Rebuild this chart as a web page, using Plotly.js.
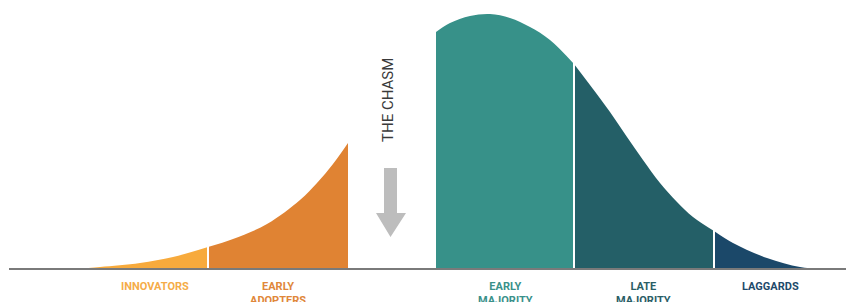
<!DOCTYPE html>
<html>
<head>
<meta charset="utf-8">
<script src="https://cdn.plot.ly/plotly-3.0.1.min.js"></script>
<style>html,body{margin:0;padding:0;background:#fff;}#chart{width:846px;height:302px;}</style>
</head>
<body>
<div id="chart"></div>
<script>
// Segment names
const segmentNames = ["INNOVATORS", "EARLY<br>ADOPTERS", "EARLY<br>MAJORITY", "LATE<br>MAJORITY", "LAGGARDS"];
const labelX = [155, 278, 505, 643, 770];

// Curve samples per segment (x position, curve height)
const innovatorsX = [73, 100, 140, 173, 208];
const innovatorsY = [0, 2, 6, 12, 22];
const earlyAdoptersX = [208, 233, 267, 300, 317, 333, 348];
const earlyAdoptersY = [22, 30, 45, 69, 86, 105, 126];
const earlyMajorityX = [436, 450, 470, 490, 510, 530, 550, 574];
const earlyMajorityY = [237, 246, 253, 255, 251, 242, 229, 205];
const lateMajorityX = [574, 593, 610, 627, 643, 660, 677, 693, 714];
const lateMajorityY = [205, 180, 157, 132, 109, 86, 67, 52, 38];
const laggardsX = [714, 733, 767, 800, 823];
const laggardsY = [38, 26, 11, 2, 0];

const fillColors = ["#F7AA3C", "#E08333", "#379189", "#245F67", "#1B4869"];
const labelColors = ["#F5AC48", "#E0873A", "#3A918A", "#2A5E66", "#1E4A6A"];

const baselineX = [9, 846];

const segX = [innovatorsX, earlyAdoptersX, earlyMajorityX, lateMajorityX, laggardsX];
const segY = [innovatorsY, earlyAdoptersY, earlyMajorityY, lateMajorityY, laggardsY];

const traces = segX.map((xs, i) => ({
  type: "scatter", mode: "lines", x: xs, y: segY[i],
  fill: "tozeroy", fillcolor: fillColors[i],
  line: {width: 0, shape: "spline", smoothing: 1.0, color: fillColors[i]},
  hoverinfo: "skip", showlegend: false
}));

// White separators at boundaries between adjacent segments
const sepX = [], sepY = [];
[[innovatorsX, innovatorsY], [earlyMajorityX, earlyMajorityY], [lateMajorityX, lateMajorityY]].forEach(([xs, ys]) => {
  const n = xs.length - 1;
  sepX.push(xs[n], xs[n], null);
  sepY.push(0, ys[n] + 2, null);
});
traces.push({type: "scatter", mode: "lines", x: sepX, y: sepY,
  line: {color: "#ffffff", width: 2}, hoverinfo: "skip", showlegend: false});

// Baseline
traces.push({type: "scatter", mode: "lines", x: baselineX, y: [0, 0],
  line: {color: "#7a7a7a", width: 2}, hoverinfo: "skip", showlegend: false});

const annotations = segmentNames.map((t, i) => ({
  x: labelX[i], y: -9, xref: "x", yref: "y", text: "<b>" + t + "</b>",
  showarrow: false, yanchor: "top", xanchor: "center",
  font: {family: "Liberation Sans Narrow, Roboto, Arial", size: 11, color: labelColors[i]}
}));
annotations.push({
  x: 388, y: 169, xref: "x", yref: "y", text: "THE CHASM", textangle: -90,
  showarrow: false, xanchor: "center", yanchor: "middle",
  font: {family: "Roboto, Liberation Sans, Arial", size: 15, color: "#3a3a3a"}
});

const layout = {
  width: 846, height: 302,
  margin: {l: 0, r: 0, t: 0, b: 0},
  paper_bgcolor: "#ffffff", plot_bgcolor: "#ffffff",
  xaxis: {range: [0, 846], visible: false, fixedrange: true},
  yaxis: {range: [-33, 269], visible: false, fixedrange: true},
  annotations: annotations,
  shapes: [{
    type: "path", xref: "x", yref: "y",
    path: "M 384 101 L 397 101 L 397 56 L 406 56 L 390.5 32 L 376 56 L 384 56 Z",
    fillcolor: "#BDBDBD", line: {width: 0}
  }]
};

Plotly.newPlot("chart", traces, layout, {displayModeBar: false, staticPlot: true});
</script>
</body>
</html>
